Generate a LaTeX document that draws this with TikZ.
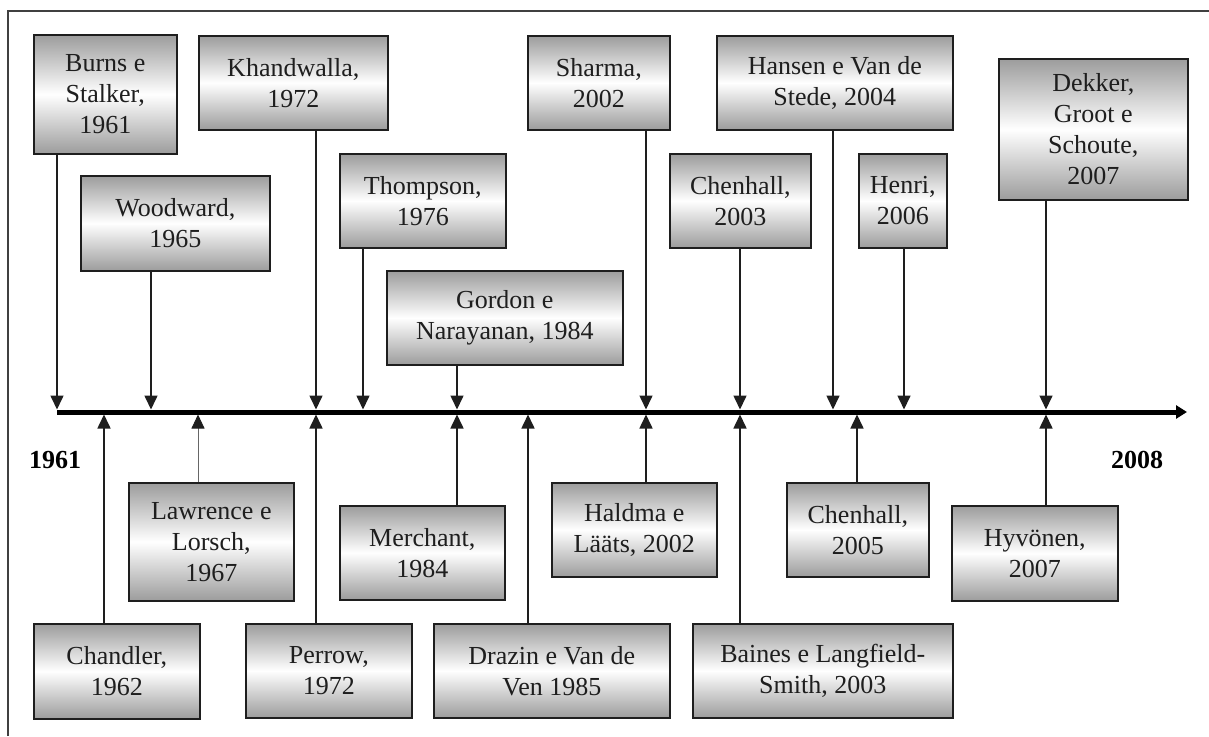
\documentclass[tikz,border=0pt]{standalone}
\usepackage{fontspec}
\setmainfont{Liberation Serif}
\usetikzlibrary{arrows.meta}
\definecolor{boxgray}{RGB}{156,156,156}
\definecolor{inkc}{RGB}{30,30,30}
\begin{document}
\begin{tikzpicture}[x=1pt,y=-1pt,
  box/.style={draw=inkc, line width=1.6pt, top color=boxgray, bottom color=boxgray, middle color=white,
    align=center, text=inkc, font=\fontsize{26}{31}\selectfont, inner sep=0pt, anchor=north west},
  conn/.style={draw=inkc, line width=1.6pt, -{Triangle[width=13pt,length=14pt]}},
  thinconn/.style={draw=black!60, line width=0.9pt, -{Triangle[width=13pt,length=14pt,color=inkc]}},
  axisline/.style={draw=black, line width=5pt, -{Triangle[width=13pt,length=11pt]}},
  yearlbl/.style={font=\fontsize{26}{31}\selectfont\bfseries, text=black, inner sep=0pt},
  frame/.style={draw=black!75, line width=1.2pt}]
\useasboundingbox (0,0) rectangle (1209,736);
\draw[frame] (8,736) -- (8,11) -- (1209,11);

% axis
\coordinate (axs) at (57,412);
\coordinate (axe) at (1187,412);
\draw[axisline] (axs) -- (axe);
\foreach \p in {57,104,151,198,316,363,457,528,646,740,833,857,904,1046}
  \coordinate (p\p) at (\p,412);

% top boxes
\node[box, minimum width=143pt, minimum height=119pt] (burns) at (33,34) {Burns e\\Stalker,\\1961};
\node[box, minimum width=189pt, minimum height=95pt] (woodward) at (80,175) {Woodward,\\1965};
\node[box, minimum width=189pt, minimum height=94pt] (khandwalla) at (198,35) {Khandwalla,\\1972};
\node[box, minimum width=166pt, minimum height=94pt] (thompson) at (339,153) {Thompson,\\1976};
\node[box, minimum width=236pt, minimum height=94pt] (gordon) at (386,270) {Gordon e\\Narayanan, 1984};
\node[box, minimum width=142pt, minimum height=94pt] (sharma) at (527,35) {Sharma,\\2002};
\node[box, minimum width=141pt, minimum height=94pt] (chenhalla) at (669,153) {Chenhall,\\2003};
\node[box, minimum width=236pt, minimum height=94pt] (hansen) at (716,35) {Hansen e Van de\\Stede, 2004};
\node[box, minimum width=88pt, minimum height=94pt] (henri) at (858,153) {Henri,\\2006};
\node[box, minimum width=189pt, minimum height=141pt] (dekker) at (998,58) {Dekker,\\Groot e\\Schoute,\\2007};

% bottom boxes
\node[box, minimum width=166pt, minimum height=95pt] (chandler) at (33,623) {Chandler,\\1962};
\node[box, minimum width=165pt, minimum height=118pt] (lawrence) at (128,482) {Lawrence e\\Lorsch,\\1967};
\node[box, minimum width=166pt, minimum height=94pt] (perrow) at (245,623) {Perrow,\\1972};
\node[box, minimum width=165pt, minimum height=94pt] (merchant) at (339,505) {Merchant,\\1984};
\node[box, minimum width=236pt, minimum height=94pt] (drazin) at (433,623) {Drazin e Van de\\Ven 1985};
\node[box, minimum width=165pt, minimum height=94pt] (haldma) at (551,482) {Haldma e\\Lääts, 2002};
\node[box, minimum width=260pt, minimum height=94pt] (baines) at (692,623) {Baines e Langfield-\\Smith, 2003};
\node[box, minimum width=142pt, minimum height=94pt] (chenhallb) at (786,482) {Chenhall,\\2005};
\node[box, minimum width=166pt, minimum height=95pt] (hyvonen) at (951,505) {Hyvönen,\\2007};

% year labels
\node[yearlbl] (y1961) at (55,460) {1961};
\node[yearlbl] (y2008) at (1137,460) {2008};

% top connectors
\draw[conn, shorten >=2.5pt] (burns.south -| p57) -- (p57);
\draw[conn, shorten >=2.5pt] (woodward.south -| p151) -- (p151);
\draw[conn, shorten >=2.5pt] (khandwalla.south -| p316) -- (p316);
\draw[conn, shorten >=2.5pt] (thompson.south -| p363) -- (p363);
\draw[conn, shorten >=2.5pt] (gordon.south -| p457) -- (p457);
\draw[conn, shorten >=2.5pt] (sharma.south -| p646) -- (p646);
\draw[conn, shorten >=2.5pt] (chenhalla.south -| p740) -- (p740);
\draw[conn, shorten >=2.5pt] (hansen.south -| p833) -- (p833);
\draw[conn, shorten >=2.5pt] (henri.south -| p904) -- (p904);
\draw[conn, shorten >=2.5pt] (dekker.south -| p1046) -- (p1046);

% bottom connectors
\draw[conn, shorten >=2.5pt] (chandler.north -| p104) -- (p104);
\draw[thinconn, shorten >=2.5pt] (lawrence.north -| p198) -- (p198);
\draw[conn, shorten >=2.5pt] (perrow.north -| p316) -- (p316);
\draw[conn, shorten >=2.5pt] (merchant.north -| p457) -- (p457);
\draw[conn, shorten >=2.5pt] (drazin.north -| p528) -- (p528);
\draw[conn, shorten >=2.5pt] (haldma.north -| p646) -- (p646);
\draw[conn, shorten >=2.5pt] (baines.north -| p740) -- (p740);
\draw[conn, shorten >=2.5pt] (chenhallb.north -| p857) -- (p857);
\draw[conn, shorten >=2.5pt] (hyvonen.north -| p1046) -- (p1046);
\end{tikzpicture}
\end{document}
